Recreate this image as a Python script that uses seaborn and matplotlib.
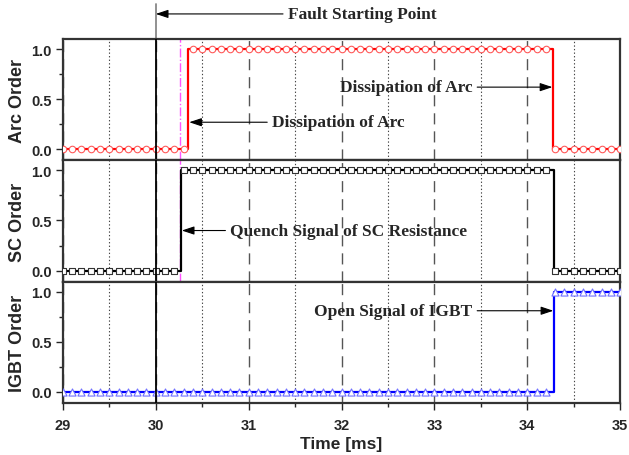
import numpy as np
import pandas as pd
import matplotlib
matplotlib.use("Agg")
import matplotlib.pyplot as plt
import seaborn as sns
from matplotlib.ticker import MultipleLocator

# ---- data ----
# step signals: times at which the level changes, and the level after each time
arc_times = [29.0, 30.35, 34.28, 35.0]
arc_levels = [0, 1, 0, 0]
sc_times = [29.0, 30.27, 34.29, 35.0]
sc_levels = [0, 1, 0, 0]
igbt_times = [29.0, 34.29, 35.0]
igbt_levels = [0, 1, 1]
sample_times = [round(29.0 + 0.1 * i, 1) for i in range(61)]  # marker sampling

fault_time = 30.0
quench_time = 30.26
ylabels = ["Arc Order", "SC Order", "IGBT Order"]
xticks = [29, 30, 31, 32, 33, 34, 35]
yticks = [0.0, 0.5, 1.0]


def sample(times, levels, ts):
    idx = np.searchsorted(np.array(times), np.array(ts), side="right") - 1
    return np.array(levels)[np.clip(idx, 0, len(levels) - 1)]


sns.set_style("ticks")
plt.rcParams["font.family"] = ["Liberation Sans", "DejaVu Sans"]

fig, axes = plt.subplots(3, 1, sharex=True, figsize=(6.29, 4.56), dpi=100)
fig.subplots_adjust(left=0.1, right=0.986, top=1 - 40 / 456, bottom=1 - 404 / 456, hspace=0)

series = [
    (arc_times, arc_levels, "#ff0000", "#ff5a5a", "o", 22),
    (sc_times, sc_levels, "#000000", "#333333", "s", 15),
    (igbt_times, igbt_levels, "#0000ff", "#7070ff", "^", 26),
]

for ax, (t, v, lc, mc, mk, ms), lab in zip(axes, series, ylabels):
    ax.set_xlim(29, 35)
    ax.set_ylim(-0.11, 1.1)
    ax.xaxis.set_major_locator(MultipleLocator(1))
    ax.xaxis.set_minor_locator(MultipleLocator(0.5))
    ax.yaxis.set_major_locator(MultipleLocator(0.5))
    ax.yaxis.set_minor_locator(MultipleLocator(0.25))
    ax.grid(which="major", axis="x", color="#555555", linestyle=(0, (8, 5)), linewidth=1.0)
    ax.grid(which="minor", axis="x", color="#444444", linestyle=(0, (1.2, 2)), linewidth=0.8)
    ax.set_axisbelow(True)

    df_line = pd.DataFrame({"t": t, "v": v})
    sns.lineplot(data=df_line, x="t", y="v", ax=ax, color=lc, linewidth=1.6,
                 drawstyle="steps-post", zorder=3)
    df_pts = pd.DataFrame({"t": sample_times, "v": sample(t, v, sample_times)})
    sns.scatterplot(data=df_pts, x="t", y="v", ax=ax, marker=mk, s=ms,
                    facecolor="white", edgecolor=mc, linewidth=0.8, zorder=4)

    ax.axvline(fault_time, color="black", linewidth=1.3, zorder=5)

    ax.set_ylabel(lab, fontsize=13, fontweight="bold", labelpad=4)
    ax.set_xlabel("")
    ax.set_yticks(yticks)
    ax.set_yticklabels(["0.0", "0.5", "1.0"], fontsize=10.5, fontweight="bold")
    for s in ax.spines.values():
        s.set_linewidth(1.6)
        s.set_color("#333333")
    ax.tick_params(axis="y", which="major", length=5, width=1.0, direction="out", left=True, pad=3)
    ax.tick_params(axis="y", which="minor", length=3, width=1.0, direction="out", left=True)
    ax.tick_params(axis="x", which="both", bottom=False, labelbottom=False)

axes[0].axvline(quench_time, color="#ff55ff", linestyle="-.", linewidth=1.0, zorder=2)
axes[1].axvline(quench_time, color="#ff55ff", linestyle="-.", linewidth=1.0, zorder=2)

axes[0].axvline(fault_time, ymin=1.0, ymax=1.29, color="#888888", linewidth=1.3, clip_on=False)

bx = axes[2]
bx.tick_params(axis="x", which="major", bottom=True, labelbottom=True, length=5, width=1.0,
               direction="out", pad=6)
bx.tick_params(axis="x", which="minor", bottom=True, length=3, width=1.0, direction="out")
bx.set_xticks(xticks)
bx.set_xticklabels([str(x) for x in xticks], fontsize=10.5, fontweight="bold")
bx.set_xlabel("Time [ms]", fontsize=12.5, fontweight="bold", labelpad=3)

for ax in axes:
    ax.yaxis.set_label_coords(-0.066, 0.5)

afont = dict(family=["Liberation Serif", "DejaVu Serif"], fontsize=12.5, fontweight="bold")
arrow = dict(arrowstyle="-|>,head_length=0.6,head_width=0.2", color="black", lw=0.8,
             shrinkA=1, shrinkB=0)

axes[0].annotate("Fault Starting Point", xy=(fault_time, 1.35), xytext=(31.42, 1.35),
                 va="center", ha="left", arrowprops=arrow, annotation_clip=False, **afont)
axes[0].annotate("Dissipation of Arc", xy=(30.36, 0.27), xytext=(31.25, 0.27),
                 va="center", ha="left", arrowprops=arrow, **afont)
axes[0].annotate("Dissipation of Arc", xy=(34.27, 0.62), xytext=(33.41, 0.62),
                 va="center", ha="right", arrowprops=arrow, **afont)
axes[1].annotate("Quench Signal of SC Resistance", xy=(30.28, 0.40), xytext=(30.80, 0.40),
                 va="center", ha="left", arrowprops=arrow, **afont)
axes[2].annotate("Open Signal of IGBT", xy=(34.28, 0.81), xytext=(33.41, 0.81),
                 va="center", ha="right", arrowprops=arrow, **afont)

fig.savefig("out.png", dpi=100)
